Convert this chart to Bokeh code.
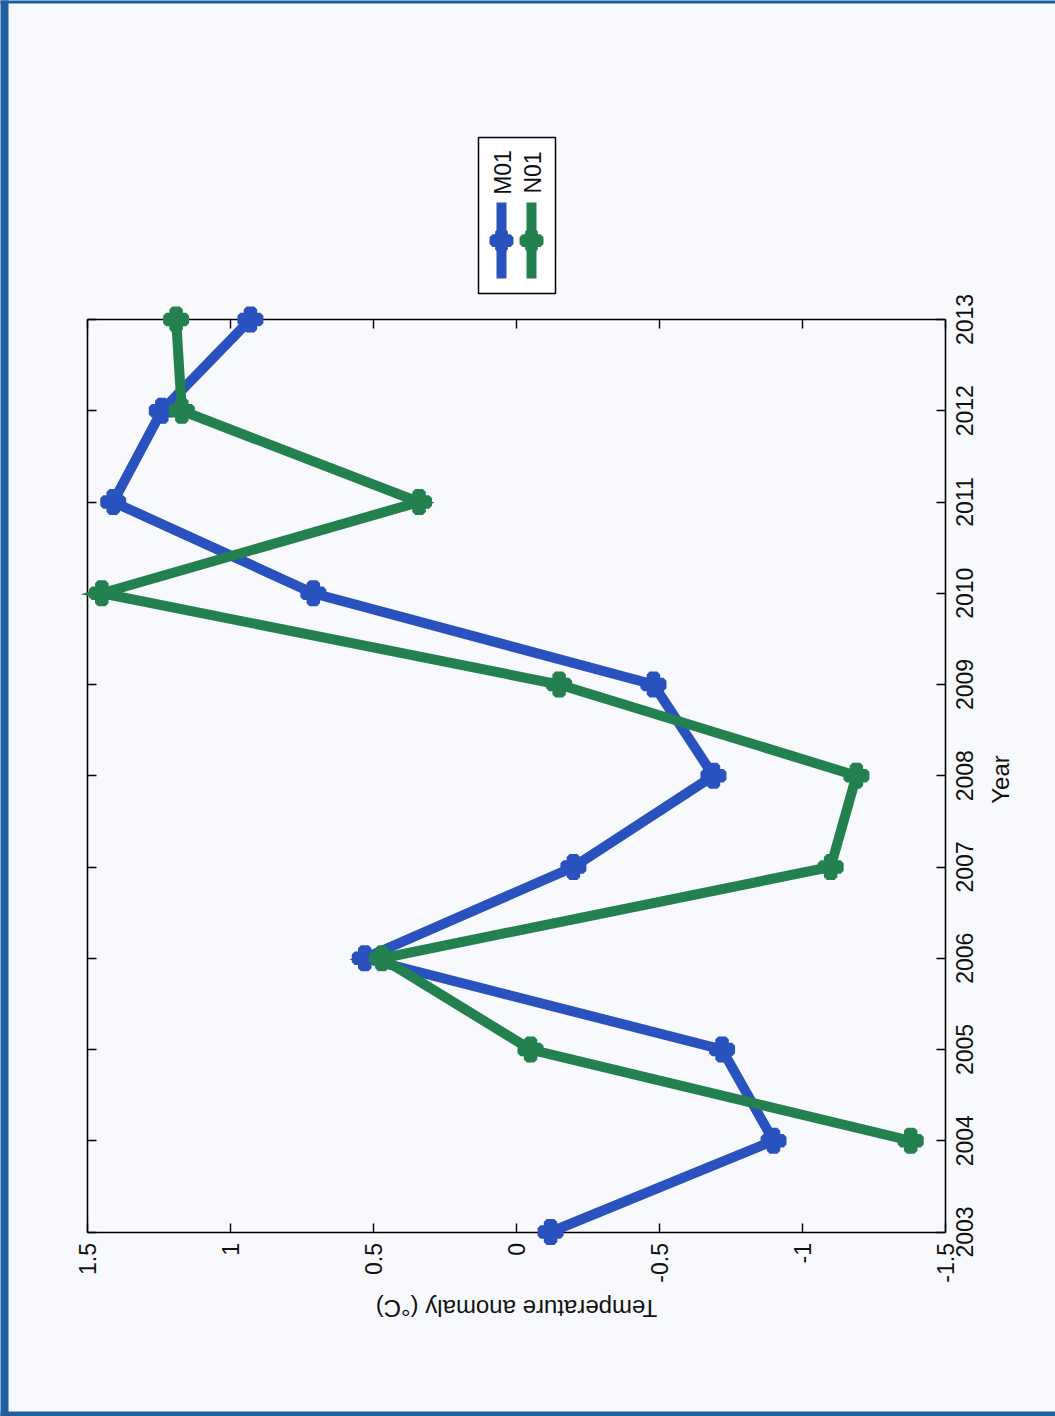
import math
from bokeh.plotting import figure
from bokeh.models import Range1d, LinearAxis, FixedTicker, Label
from bokeh.core.properties import value
from bokeh.embed import file_html
from bokeh.resources import INLINE

# ---- data -------------------------------------------------------------
years = [2003, 2004, 2005, 2006, 2007, 2008, 2009, 2010, 2011, 2012, 2013]
m01 = [-0.12, -0.90, -0.72, 0.53, -0.20, -0.69, -0.48, 0.71, 1.41, 1.24, 0.93]
n01 = [float("nan"), -1.38, -0.05, 0.47, -1.10, -1.19, -0.15, 1.45, 0.34, 1.17, 1.19]
series_names = ["M01", "N01"]
temp_ticks = [-1.5, -1.0, -0.5, 0.0, 0.5, 1.0, 1.5]
temp_tick_labels = ["-1.5", "-1", "-0.5", "0", "0.5", "1", "1.5"]
year_ticks = years
year_tick_labels = [str(y) for y in years]

# ---- page geometry (pixels) ------------------------------------------
W, H = 1055, 1416
FRAME_L, FRAME_R = 87.0, 944.5      # temperature 1.5 .. -1.5 (left to right)
FRAME_T, FRAME_B = 319.0, 1231.5    # year 2013 .. 2003 (top to bottom)
T_HI, T_LO = 1.5, -1.5
Y_HI, Y_LO = 2013, 2003

def dx(px):
    return T_HI - (px - FRAME_L) / (FRAME_R - FRAME_L) * (T_HI - T_LO)

def dy(py):
    return Y_HI - (py - FRAME_T) / (FRAME_B - FRAME_T) * (Y_HI - Y_LO)

PAGE = "#f8f9fc"
EDGE = "#1f5f9f"
BLUE = "#2a52be"
GREEN = "#23804f"
FONT = "Liberation Sans"
INK = "#111111"

p = figure(width=W, height=H,
           x_range=Range1d(dx(0), dx(W)), y_range=Range1d(dy(H), dy(0)),
           x_axis_type=None, y_axis_type=None,
           output_backend="svg", toolbar_location=None, min_border=0)
p.outline_line_color = None
p.background_fill_color = PAGE
p.border_fill_color = PAGE

# scanned page edges (left, top, bottom)
p.quad(left=[dx(-2), dx(-2), dx(-2)], right=[dx(8), dx(W + 2), dx(W + 2)],
       top=[dy(-2), dy(-2), dy(H - 5)], bottom=[dy(H + 2), dy(3), dy(H + 2)],
       fill_color=EDGE, line_color=None, level="underlay")

# plot box with inward ticks on all four sides
def frame_axis(loc, fixed, bounds, ticks, labels=True, overrides=None, orient=math.pi / 2):
    ax = LinearAxis(fixed_location=fixed, bounds=bounds, ticker=FixedTicker(ticks=ticks))
    ax.axis_line_color = "black"
    ax.axis_line_width = 1.6
    ax.major_tick_line_color = "black"
    ax.major_tick_line_width = 1.4
    ax.major_tick_in = 9
    ax.major_tick_out = 0
    ax.minor_tick_line_color = None
    ax.major_label_standoff = 11
    ax.major_label_text_font = FONT
    ax.major_label_text_font_size = "23px"
    ax.major_label_text_color = INK if labels else None
    ax.major_label_orientation = orient
    if overrides:
        ax.major_label_overrides = overrides
    ax.level = "underlay"
    p.add_layout(ax, loc)
    return ax

temp_over = {t: s for t, s in zip(temp_ticks, temp_tick_labels)}
frame_axis("below", Y_LO, (T_LO, T_HI), temp_ticks, True, temp_over)
frame_axis("above", Y_HI, (T_LO, T_HI), temp_ticks, False)
frame_axis("right", T_LO, (Y_LO, Y_HI), year_ticks, False)
frame_axis("left", T_HI, (Y_LO, Y_HI), year_ticks, False)

# year tick labels, reading bottom-to-top beside the right edge of the box
p.text(x=[T_LO] * len(year_ticks), y=year_ticks, text=year_tick_labels,
       x_offset=11, angle=math.pi / 2, text_align="center", text_baseline="top",
       text_font=value(FONT), text_font_size="23px", text_color=INK)

# series
for vals, color in ((m01, BLUE), (n01, GREEN)):
    p.line(x=vals, y=years, line_color=color, line_width=10, line_join="miter")
    p.scatter(x=vals, y=years, marker="plus", size=20, fill_color=color,
              line_color=color, line_width=6)

# axis titles
p.add_layout(Label(x=dx(516), y=dy(1308), text="Temperature anomaly (°C)",
                   angle=math.pi, text_align="center", text_baseline="middle",
                   text_font=FONT, text_font_size="24px", text_color=INK))
p.add_layout(Label(x=dx(1000), y=dy(779), text="Year",
                   angle=math.pi / 2, text_align="center", text_baseline="middle",
                   text_font=FONT, text_font_size="24px", text_color=INK))

# legend (rotated with the rest of the chart)
LEG_L, LEG_R, LEG_T, LEG_B = 478, 555, 137, 293
p.quad(left=[dx(LEG_L)], right=[dx(LEG_R)], top=[dy(LEG_T)], bottom=[dy(LEG_B)],
       fill_color="white", line_color="black", line_width=1.5)
for i, (name, color) in enumerate(zip(series_names, (BLUE, GREEN))):
    cx = 501 + i * 30
    p.line(x=[dx(cx), dx(cx)], y=[dy(202), dy(278)], line_color=color, line_width=10)
    p.scatter(x=[dx(cx)], y=[dy(240)], marker="plus", size=18, fill_color=color,
              line_color=color, line_width=6)
    p.add_layout(Label(x=dx(cx + 1), y=dy(172), text=name, angle=math.pi / 2,
                       text_align="center", text_baseline="middle",
                       text_font=FONT, text_font_size="23px", text_color=INK))

open("out.html", "w").write(file_html(p, INLINE))
